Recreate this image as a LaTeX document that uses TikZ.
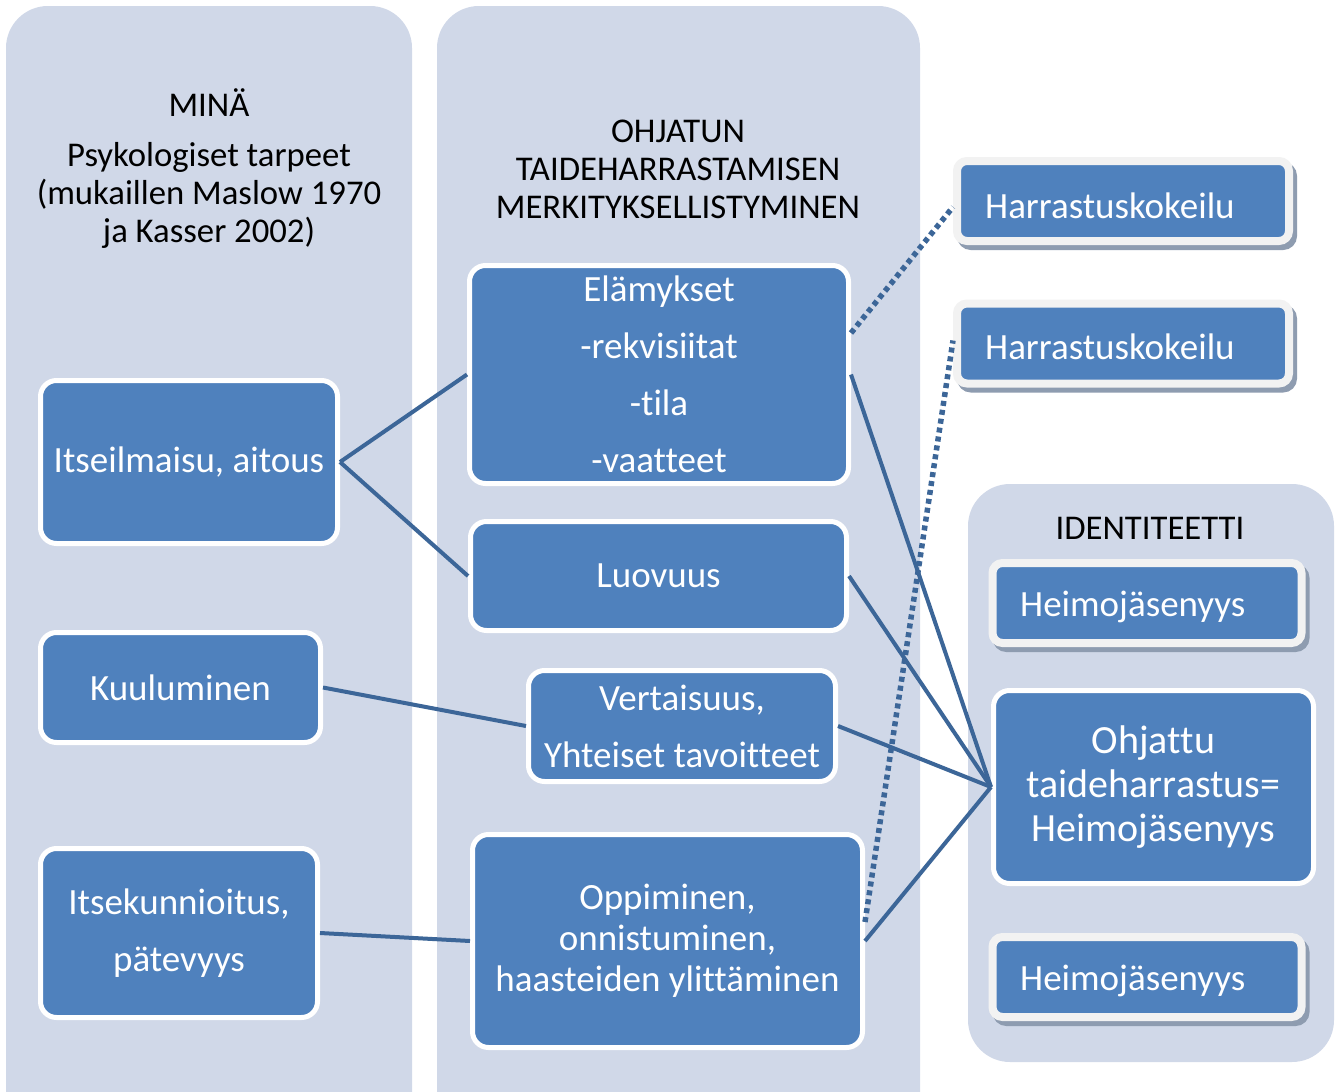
\documentclass[tikz,border=0pt]{standalone}
\usepackage{fontspec}
\setmainfont{Carlito}[Ligatures={NoCommon}]
\definecolor{panel}{HTML}{D0D8E8}
\definecolor{boxblue}{HTML}{4F81BD}
\definecolor{linec}{HTML}{3C6698}
\definecolor{lightb}{HTML}{F2F2F2}
\definecolor{shad}{HTML}{8E9CB0}
\begin{document}
\begin{tikzpicture}[x=1pt,y=-1pt,
  panelfill/.style={fill=panel, rounded corners=42pt},
  bluebox/.style={draw=white, line width=5pt, fill=boxblue, rounded corners=16pt, text=white, inner sep=0pt, align=center},
  hbox/.style={draw=lightb, line width=8pt, fill=boxblue, rounded corners=10pt, inner sep=0pt},
  hshadow/.style={draw=shad, line width=8pt, fill=shad, rounded corners=10pt, inner sep=0pt},
  htext/.style={text=white, anchor=west, inner sep=0pt, font=\fontsize{37}{38}\selectfont},
  title/.style={text=black, align=center, inner sep=0pt, font=\fontsize{34.7}{38}\selectfont},
  conn/.style={draw=linec, line width=4pt},
  dotc/.style={draw=linec, line width=5.5pt, dash pattern=on 5pt off 4pt}
]
\useasboundingbox (0,0) rectangle (1339,1092);
\clip (0,0) rectangle (1339,1092);
\fill[white] (0,0) rectangle (1339,1092);
% panels
\fill[panelfill] (6,6) rectangle (412,1140);
\fill[panelfill] (437,6) rectangle (920,1140);
\fill[panelfill] (968,484) rectangle (1334,1062);
% titles
\node[title] (mina) at (209,103) {MINÄ};
\node[title] (psyk) at (209,195) {Psykologiset tarpeet\\(mukaillen Maslow 1970\\ja Kasser 2002)};
\node[title] (ohjt) at (678,169) {OHJATUN\\TAIDEHARRASTAMISEN\\MERKITYKSELLISTYMINEN};
\node[title] (ident) at (1150,528) {IDENTITEETTI};
% left column boxes
\node[bluebox, font=\fontsize{37}{38}\selectfont, minimum width=297pt, minimum height=163pt] (itse) at (189,462) {Itseilmaisu, aitous};
\node[bluebox, font=\fontsize{37}{38}\selectfont, minimum width=280pt, minimum height=110pt] (kuul) at (180.5,687.5) {Kuuluminen};
\node[bluebox, font=\fontsize{37}{57}\selectfont, minimum width=277pt, minimum height=169pt] (itsek) at (179,933) {Itsekunnioitus,\\pätevyys};
% middle column boxes
\node[bluebox, font=\fontsize{37}{57}\selectfont, minimum width=379pt, minimum height=218pt] (elam) at (659,374.5) {Elämykset\\-rekvisiitat\\-tila\\-vaatteet};
\node[bluebox, font=\fontsize{37}{38}\selectfont, minimum width=376pt, minimum height=109pt] (luov) at (658.5,576) {Luovuus};
\node[bluebox, font=\fontsize{37}{57}\selectfont, minimum width=307pt, minimum height=111pt] (vert) at (682,726) {Vertaisuus,\\Yhteiset tavoitteet};
\node[bluebox, font=\fontsize{37}{41}\selectfont, minimum width=390pt, minimum height=213pt] (opp) at (667.5,941) {Oppiminen,\\onnistuminen,\\haasteiden ylittäminen};
% right side boxes
\node[hshadow, minimum width=332pt, minimum height=80pt] at (1127,206) {};
\node[hbox, minimum width=332pt, minimum height=80pt] (h1) at (1123,201) {};
\node[htext] (h1t) at (985,206) {Harrastuskokeilu};
\node[hshadow, minimum width=332pt, minimum height=80pt] at (1127,348.5) {};
\node[hbox, minimum width=332pt, minimum height=80pt] (h2) at (1123,343.5) {};
\node[htext] (h2t) at (985,347) {Harrastuskokeilu};
\node[hshadow, minimum width=309pt, minimum height=80pt] at (1151,608) {};
\node[hbox, minimum width=309pt, minimum height=80pt] (hm1) at (1147,603) {};
\node[htext] (hm1t) at (1020,607) {Heimojäsenyys};
\node[hshadow, minimum width=309pt, minimum height=80pt] at (1151,982) {};
\node[hbox, minimum width=309pt, minimum height=80pt] (hm2) at (1147,977) {};
\node[htext] (hm2t) at (1020,981) {Heimojäsenyys};
\node[bluebox, font=\fontsize{40}{44}\selectfont, minimum width=320pt, minimum height=193pt] (ohj) at (1153.5,787) {Ohjattu\\taideharrastus=\\Heimojäsenyys};
% connectors
\draw[conn] (itse.east) -- (elam.west);
\draw[conn] (itse.east) -- (luov.west);
\draw[conn] (kuul.east) -- (vert.west);
\draw[conn] (itsek.east) -- (opp.west);
\draw[conn] (elam.east) -- (ohj.west);
\draw[conn] (luov.east) -- (ohj.west);
\draw[conn] (vert.east) -- (ohj.west);
\draw[conn] (opp.east) -- (ohj.west);
\draw[dotc] ([yshift=41.5pt]elam.east) -- ([yshift=-6pt]h1.west);
\draw[dotc] ([yshift=19pt]opp.east) -- ([yshift=3pt]h2.west);
\end{tikzpicture}
\end{document}
